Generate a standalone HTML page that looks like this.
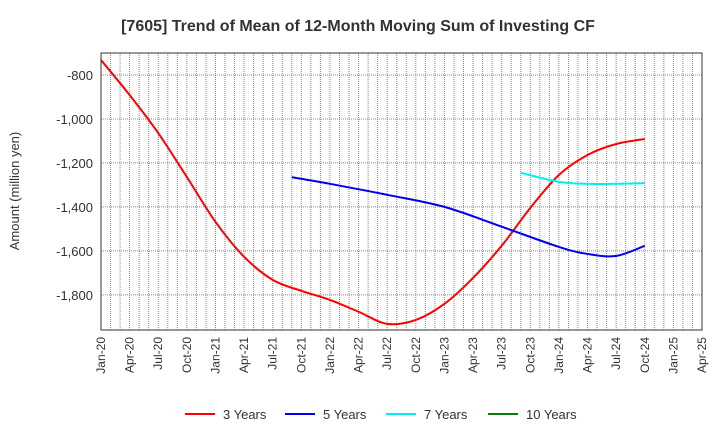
<!DOCTYPE html>
<html><head><meta charset="utf-8"><style>
body{margin:0;background:#fff;font-family:"Liberation Sans",Arial,sans-serif}
</style></head><body>
<svg id="c" width="720" height="440" xmlns="http://www.w3.org/2000/svg" font-family="Liberation Sans, Arial, sans-serif">
<text x="358" y="31" text-anchor="middle" font-size="16" font-weight="bold" fill="#333">[7605]  Trend of Mean of 12-Month Moving Sum of Investing CF</text>
<text transform="translate(19,191) rotate(-90)" text-anchor="middle" font-size="13" fill="#333">Amount (million yen)</text>
<g id="grid"></g><g id="series"></g><g id="axes"></g><g id="legend"></g>
</svg>
<script>
const xLabels=["Jan-20","Apr-20","Jul-20","Oct-20","Jan-21","Apr-21","Jul-21","Oct-21","Jan-22","Apr-22","Jul-22","Oct-22","Jan-23","Apr-23","Jul-23","Oct-23","Jan-24","Apr-24","Jul-24","Oct-24","Jan-25","Apr-25"];
const yTicks=[-800,-1000,-1200,-1400,-1600,-1800];
const s3m=[0,3,6,9,12,15,18,21,24,27,30,33,36,39,42,45,48,51,54,57];
const s3v=[-732,-891,-1064,-1264,-1468,-1627,-1732,-1782,-1823,-1877,-1932,-1914,-1841,-1723,-1577,-1405,-1255,-1164,-1114,-1091];
const s5m=[20,24,30,36,42,48,51,54,57];
const s5v=[-1265,-1295,-1345,-1400,-1490,-1582,-1614,-1623,-1577];
const s7m=[44,48,51,54,57];
const s7v=[-1245,-1286,-1295,-1295,-1292];
const s10m=[];const s10v=[];
const L=101,R=702,T=53,B=330,yMax=-700,yMin=-1960,months=63;
const X=m=>L+(R-L)*m/months, Y=v=>T+(B-T)*(yMax-v)/(yMax-yMin);
const NS="http://www.w3.org/2000/svg";
function mk(p,t,a){const e=document.createElementNS(NS,t);for(const k in a)e.setAttribute(k,a[k]);p.appendChild(e);return e;}
const g=document.getElementById('grid'),ax=document.getElementById('axes'),sg=document.getElementById('series'),lg=document.getElementById('legend');
for(let m=1;m<months;m++){const l=mk(g,'line',{x1:X(m),x2:X(m),y1:T,y2:B,stroke:'#888','stroke-dasharray':'1,1','stroke-width':1});

}
yTicks.forEach(v=>{const l=mk(g,'line',{x1:L,x2:R,y1:Y(v),y2:Y(v),stroke:'#888','stroke-dasharray':'1,1','stroke-width':1});


const t=mk(ax,'text',{x:L-8,y:Y(v)+5,'text-anchor':'end','font-size':13,fill:'#333'});t.textContent=v.toLocaleString('en-US');

});
xLabels.forEach((s,i)=>{const x=X(i*3);const t=mk(ax,'text',{transform:`translate(${x+4},337) rotate(-90)`,'text-anchor':'end','font-size':12,fill:'#333'});t.textContent=s;

});
const fr=mk(ax,'rect',{x:L,y:T,width:R-L,height:B-T,fill:'none',stroke:'#333','stroke-width':1});


function path(ms,vs){const p=ms.map((m,i)=>[X(m),Y(vs[i])]);if(!p.length)return'';let d=`M${p[0][0]},${p[0][1]}`;
for(let i=0;i<p.length-1;i++){const p0=p[i-1]||p[i],p1=p[i],p2=p[i+1],p3=p[i+2]||p2;
d+=`C${p1[0]+(p2[0]-p0[0])/6},${p1[1]+(p2[1]-p0[1])/6} ${p2[0]-(p3[0]-p1[0])/6},${p2[1]-(p3[1]-p1[1])/6} ${p2[0]},${p2[1]}`;}return d;}
const series=[["3 Years","#ff0000",s3m,s3v,185],["5 Years","#0000ee",s5m,s5v,285],["7 Years","#00eeee",s7m,s7v,386],["10 Years","#008000",s10m,s10v,488]];
series.forEach(([n,c,m,v,lx])=>{if(m.length){const p=mk(sg,'path',{d:path(m,v),fill:'none',stroke:c,'stroke-width':2});

}
const l=mk(lg,'line',{x1:lx,x2:lx+30,y1:414,y2:414,stroke:c,'stroke-width':2});


const t=mk(lg,'text',{x:lx+38,y:419,'font-size':13,fill:'#333'});t.textContent=n;

});
</script>
</body></html>
